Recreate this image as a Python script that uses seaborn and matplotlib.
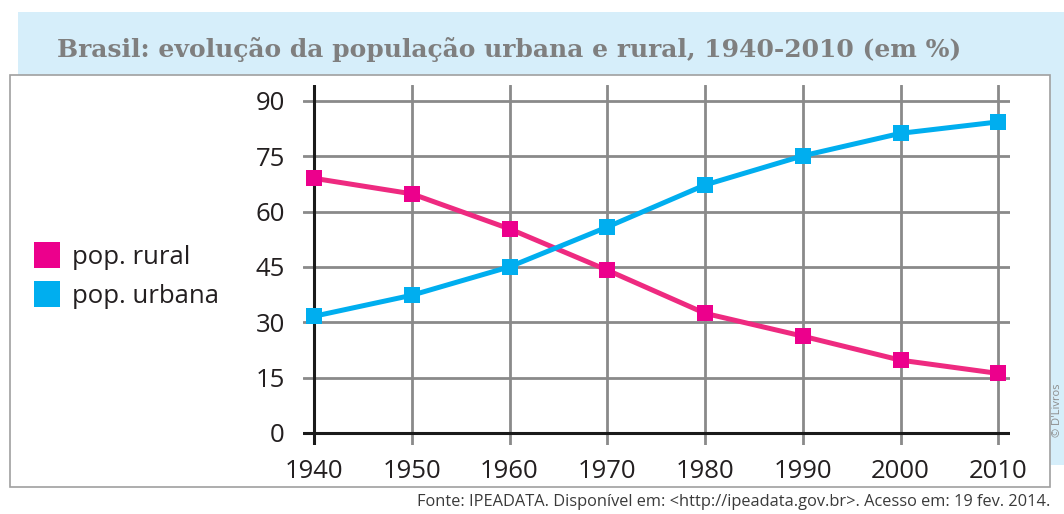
import numpy as np
import pandas as pd
import seaborn as sns
import matplotlib.pyplot as plt
from matplotlib.patches import Rectangle
from matplotlib.lines import Line2D

# dados (em %)
anos = [1940, 1950, 1960, 1970, 1980, 1990, 2000, 2010]
pop_rural = [69.0, 64.8, 55.3, 44.1, 32.4, 26.2, 19.7, 16.1]
pop_urbana = [31.6, 37.3, 45.0, 55.8, 67.2, 75.1, 81.2, 84.3]
yticks = [0, 15, 30, 45, 60, 75, 90]

cor_rural = '#EC008C'
cor_urbana = '#00AEEF'

df = pd.DataFrame({'ano': anos * 2,
                   'valor': pop_rural + pop_urbana,
                   'serie': ['pop. rural'] * len(anos) + ['pop. urbana'] * len(anos)})

sns.set_style('white')
plt.rcParams['font.family'] = ['Open Sans', 'DejaVu Sans']

fig = plt.figure(figsize=(10.64, 5.14), dpi=100)

# faixa azul do titulo e caixa branca (atras dos eixos)
fig.patches.append(Rectangle((18 / 1064, 1 - 465 / 514), 1046 / 1064, 453 / 514,
                             transform=fig.transFigure, facecolor='#D6EEFA',
                             edgecolor='none', zorder=-3))
fig.patches.append(Rectangle((10 / 1064, 1 - 487 / 514), 1040 / 1064, 412 / 514,
                             transform=fig.transFigure, facecolor='white',
                             edgecolor='#A0A0A0', linewidth=1.2, zorder=-2))

ax = fig.add_axes([303 / 1064, 69 / 514, 707 / 1064, 360 / 514])
ax.patch.set_alpha(0)

sns.lineplot(data=df, x='ano', y='valor', hue='serie', style='serie',
             palette={'pop. rural': cor_rural, 'pop. urbana': cor_urbana},
             markers={'pop. rural': 's', 'pop. urbana': 's'}, dashes=False,
             linewidth=3.6, markersize=11, markeredgewidth=0,
             legend=False, ax=ax, zorder=5)
ax.lines[0].set_color('#EE2A80')
ax.lines[0].set_markerfacecolor(cor_rural)

ax.set_xlim(1938.87, 2011.2)
ax.set_ylim(-3.3, 94.3)
ax.set_xticks(anos)
ax.set_yticks(yticks)
for a in anos:
    ax.axvline(a, color='#8A8A8A', linewidth=2, zorder=1)
for v in yticks:
    ax.axhline(v, color='#8A8A8A', linewidth=2, zorder=1)
ax.axvline(anos[0], color='#1A1A1A', linewidth=2.2, zorder=2)
ax.axhline(0, color='#1A1A1A', linewidth=2.2, zorder=2)
for s in ax.spines.values():
    s.set_visible(False)
ax.tick_params(length=0, labelsize=18.5, colors='#231F20')
ax.tick_params(axis='y', pad=13)
ax.tick_params(axis='x', pad=10)
ax.set_xlabel('')
ax.set_ylabel('')

# legenda
handles = [Line2D([], [], marker='s', linestyle='none', markersize=19,
                  markerfacecolor=c, markeredgewidth=0)
           for c in [cor_rural, cor_urbana]]
fig.legend(handles, ['pop. rural', 'pop. urbana'], loc='center left',
           bbox_to_anchor=(32 / 1064, 1 - 277 / 514), frameon=False,
           borderpad=0, borderaxespad=0,
           fontsize=18.5, handletextpad=0.35, labelspacing=0.55, handlelength=1.2,
           labelcolor='#231F20')

fig.text(57 / 1064, 1 - 50 / 514,
         'Brasil: evolução da população urbana e rural, 1940-2010 (em %)',
         fontsize=18, fontweight='bold', family=['DejaVu Serif'],
         color='#7F7F7F', va='center', ha='left')

fig.text(1058 / 1064, 1 - 410 / 514, "© D'Livros", rotation=90, fontsize=8,
         color='#8C8C8C', ha='center', va='center')

fig.text(1050 / 1064, 1 - 502 / 514,
         'Fonte: IPEADATA. Disponível em: <http://ipeadata.gov.br>. Acesso em: 19 fev. 2014.',
         fontsize=11.8, color='#3A3A3A', ha='right', va='center')

fig.savefig('out.png', dpi=100)
